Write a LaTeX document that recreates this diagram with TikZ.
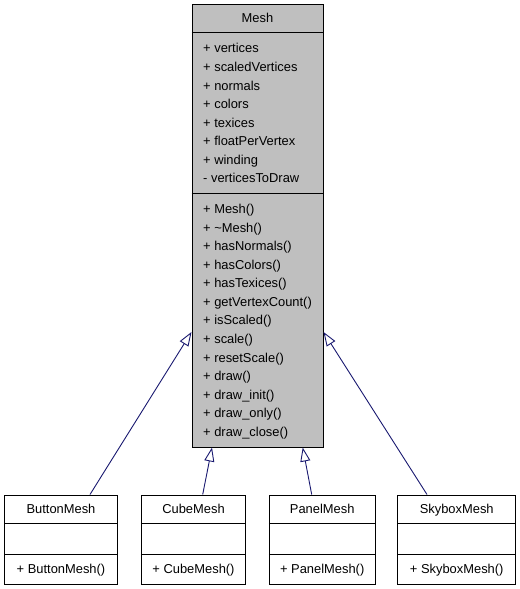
\documentclass[tikz,border=0pt]{standalone}
\usepackage{fontspec}
\setmainfont{Liberation Sans}
\usetikzlibrary{arrows.meta}
\definecolor{edgeblue}{HTML}{191970}
\definecolor{meshgray}{HTML}{BFBFBF}
\tikzset{
  classbox/.style={draw=black, line width=1bp, inner sep=0pt},
  member/.style={anchor=base west, inner sep=0pt, font=\fontsize{12.9bp}{15bp}\selectfont},
  cname/.style={anchor=base, inner sep=0pt, font=\fontsize{12.9bp}{15bp}\selectfont},
  inherit/.style={draw=edgeblue, line width=0.9bp, -{Triangle[open, length=14bp, width=10bp]}}
}
\begin{document}
\begin{tikzpicture}[x=1bp,y=-1bp]
  \useasboundingbox (0,0) rectangle (520,589);

  \node[classbox, fill=meshgray, minimum width=131bp, minimum height=442bp] (mesh) at (257.5,226) {};
  \draw[line width=1bp] (mesh.north west) ++(0,28) -- ++(131,0);
  \draw[line width=1bp] (mesh.north west) ++(0,189) -- ++(131,0);
  \node[cname] (meshname) at (257.5,22.9) {Mesh};

  \foreach \m [count=\i] in {+ vertices, + scaledVertices, + normals, + colors,
      + texices, + floatPerVertex, + winding, - verticesToDraw}
    \node[member] (a\i) at (203,{52.9+18.57*(\i-1)}) {\m};

  \foreach \m [count=\i] in {+ Mesh(), + \textasciitilde Mesh(), + hasNormals(), + hasColors(),
      + hasTexices(), + getVertexCount(), + isScaled(), + scale(), + resetScale(),
      + draw(), + draw\_init(), + draw\_only(), + draw\_close()}
    \node[member] (f\i) at (203,{213.6+18.56*(\i-1)}) {\m};

  \foreach \n/\cx/\w/\t in {btn/61/112.6/ButtonMesh, cube/193.5/104.4/CubeMesh,
      panel/322.2/105.7/PanelMesh, sky/456.7/118/SkyboxMesh} {
    \node[classbox, fill=white, minimum width=\w bp, minimum height=89bp] (\n) at (\cx,539.5) {};
    \draw[line width=1bp] (\n.north west) ++(0,29.3) -- ++(\w,0);
    \draw[line width=1bp] (\n.north west) ++(0,59.7) -- ++(\w,0);
    \node[cname] (\n-name) at (\cx,513.9) {\t};
    \node[cname] (\n-op) at (\cx,573.9) {+ \t()};
  }

  \draw[inherit] ([xshift=29bp]btn.north) -- ([yshift=-106bp]mesh.west);
  \draw[inherit] ([xshift=9.2bp]cube.north) -- ([xshift=-45.5bp]mesh.south);
  \draw[inherit] ([xshift=-10.5bp]panel.north) -- ([xshift=45.2bp]mesh.south);
  \draw[inherit] ([xshift=-29.7bp]sky.north) -- ([yshift=-106bp]mesh.east);
\end{tikzpicture}
\end{document}
